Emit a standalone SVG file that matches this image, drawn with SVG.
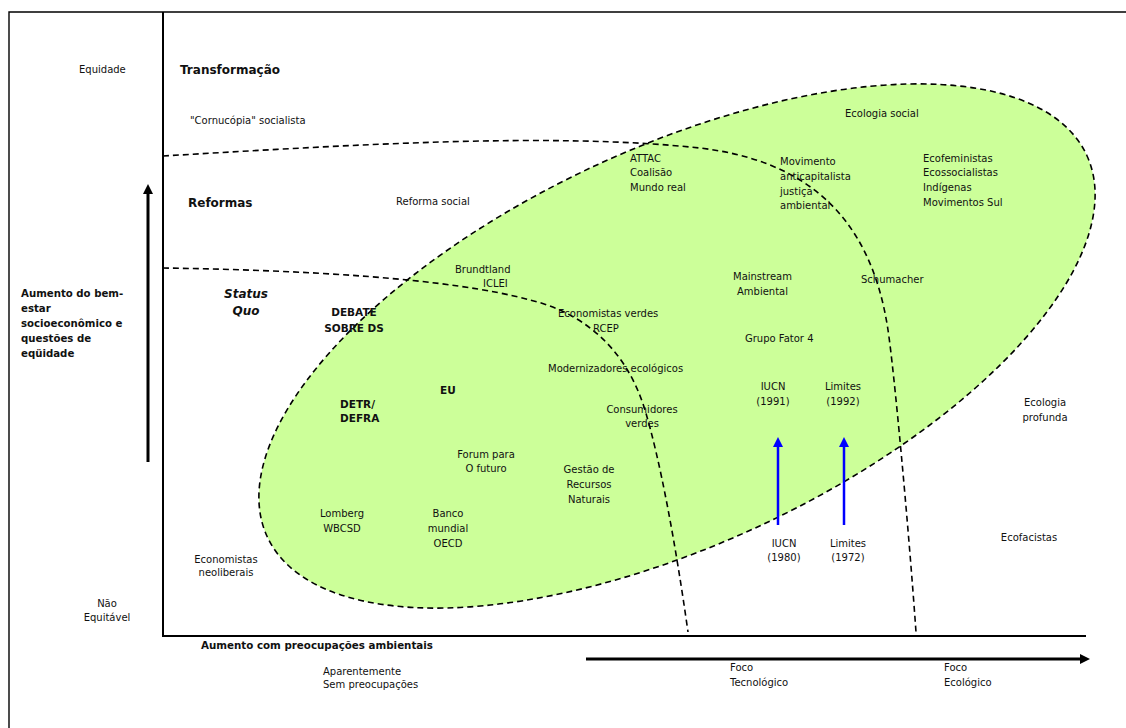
<svg xmlns="http://www.w3.org/2000/svg" width="1126" height="728" viewBox="0 0 1126 728">
<style>
text{font-family:"DejaVu Sans","Liberation Sans",sans-serif;font-size:10px;fill:#111}
.b{font-weight:bold}
.big{font-size:12px}
.m{font-size:10.5px}
.c{text-anchor:middle}
.dash{fill:none;stroke:#000;stroke-width:1.6;stroke-dasharray:6 4}
.ax{fill:none;stroke:#000;stroke-width:2}
</style>
<defs>
<marker id="ah" viewBox="0 0 10 10" refX="0" refY="5" markerWidth="10" markerHeight="10" markerUnits="userSpaceOnUse" orient="auto"><path d="M0,0 L10,5 L0,10 z" fill="#000"/></marker>
<marker id="ahb" viewBox="0 0 10 10" refX="0" refY="5" markerWidth="10" markerHeight="10" markerUnits="userSpaceOnUse" orient="auto"><path d="M0,0 L10,5 L0,10 z" fill="#0000ff"/></marker>
</defs>
<rect width="1126" height="728" fill="#fff"/>
<g id="frame">
<path d="M9,728 V12 H1126" fill="none" stroke="#000" stroke-width="1.4"/>
</g>
<g id="region-ellipse">
<ellipse cx="677" cy="346" rx="452" ry="198" transform="rotate(-25 677 346)" class="dash" style="fill:#ccff99"/>
</g>
<g id="boundaries">
<path class="dash" d="M163,156 C350,145 550,132 700,148 C800,160 870,210 888,330 C894,370 908,520 916,632"/>
<path class="dash" d="M163,268 C300,270 450,278 530,300 C580,312 625,345 645,410 C660,460 675,540 688,632"/>
</g>
<g id="axes">
<path class="ax" d="M163,12 V636 H1086"/>
</g>
<g id="connectors">
<line x1="148" y1="462" x2="148" y2="194" stroke="#000" stroke-width="3" marker-end="url(#ah)"/>
<line x1="586" y1="659" x2="1080" y2="659" stroke="#000" stroke-width="3" marker-end="url(#ah)"/>
<line x1="778" y1="525" x2="778" y2="447" stroke="#0000ff" stroke-width="2.5" marker-end="url(#ahb)"/>
<line x1="844" y1="525" x2="844" y2="447" stroke="#0000ff" stroke-width="2.5" marker-end="url(#ahb)"/>
</g>
<g id="axis-labels">
<text x="79" y="73">Equidade</text>
<text class="b" x="21" y="297" style="font-size:10.2px">Aumento do bem-</text>
<text class="b" x="21" y="312" style="font-size:10.2px">estar</text>
<text class="b" x="21" y="327" style="font-size:10.2px">socioeconômico e</text>
<text class="b" x="21" y="342" style="font-size:10.2px">questões de</text>
<text class="b" x="21" y="357" style="font-size:10.2px">eqüidade</text>
<text class="c" x="107" y="607">Não</text>
<text class="c" x="107" y="621">Equitável</text>
<text class="b" x="201" y="649" style="font-size:10.3px">Aumento com preocupações ambientais</text>
<text x="323" y="675">Aparentemente</text>
<text x="323" y="688">Sem preocupações</text>
<text x="730" y="671">Foco</text>
<text x="730" y="686">Tecnológico</text>
<text x="944" y="671">Foco</text>
<text x="944" y="686">Ecológico</text>
</g>
<g id="n-transformacao"><text class="b big" x="180" y="74">Transformação</text></g>
<g id="n-cornucopia"><text x="190" y="124">"Cornucópia" socialista</text></g>
<g id="n-reformas"><text class="b big" x="188" y="207">Reformas</text></g>
<g id="n-reforma-social"><text x="396" y="205">Reforma social</text></g>
<g id="n-status-quo"><text class="b big c" x="246" y="298" font-style="italic">Status</text><text class="b big c" x="246" y="315" font-style="italic">Quo</text></g>
<g id="n-debate"><text class="b m c" x="354" y="316">DEBATE</text><text class="b m c" x="354" y="332">SOBRE DS</text></g>
<g id="n-detr"><text class="b m" x="340" y="408">DETR/</text><text class="b m" x="340" y="422">DEFRA</text></g>
<g id="n-eu"><text class="b m" x="440" y="394">EU</text></g>
<g id="n-brundtland"><text x="455" y="273">Brundtland</text><text x="483" y="287">ICLEI</text></g>
<g id="n-attac"><text x="630" y="162">ATTAC</text><text x="630" y="176">Coalisão</text><text x="630" y="191">Mundo real</text></g>
<g id="n-economistas-verdes"><text x="558" y="317">Economistas verdes</text><text x="593" y="332">RCEP</text></g>
<g id="n-modernizadores"><text x="548" y="372">Modernizadores ecológicos</text></g>
<g id="n-consumidores"><text class="c" x="642" y="413">Consumidores</text><text class="c" x="642" y="427">verdes</text></g>
<g id="n-forum"><text class="c" x="486" y="458">Forum para</text><text class="c" x="486" y="472">O futuro</text></g>
<g id="n-gestao"><text class="c" x="589" y="473">Gestão de</text><text class="c" x="589" y="488">Recursos</text><text class="c" x="589" y="503">Naturais</text></g>
<g id="n-lomberg"><text class="c" x="342" y="517">Lomberg</text><text class="c" x="342" y="532">WBCSD</text></g>
<g id="n-banco"><text class="c" x="448" y="517">Banco</text><text class="c" x="448" y="532">mundial</text><text class="c" x="448" y="547">OECD</text></g>
<g id="n-neoliberais"><text class="c" x="226" y="563">Economistas</text><text class="c" x="226" y="576">neoliberais</text></g>
<g id="n-mainstream"><text x="733" y="280">Mainstream</text><text x="737" y="295">Ambiental</text></g>
<g id="n-fator4"><text x="745" y="342">Grupo Fator 4</text></g>
<g id="n-iucn1991"><text class="c" x="773" y="390">IUCN</text><text class="c" x="773" y="405">(1991)</text></g>
<g id="n-limites1992"><text class="c" x="843" y="390">Limites</text><text class="c" x="843" y="405">(1992)</text></g>
<g id="n-ecologia-social"><text x="845" y="117">Ecologia social</text></g>
<g id="n-movimento"><text x="780" y="165">Movimento</text><text x="780" y="180">anticapitalista</text><text x="780" y="195">justiça</text><text x="780" y="209">ambiental</text></g>
<g id="n-ecofeministas"><text x="923" y="162">Ecofeministas</text><text x="923" y="176">Ecossocialistas</text><text x="923" y="191">Indígenas</text><text x="923" y="206">Movimentos Sul</text></g>
<g id="n-schumacher"><text x="861" y="283">Schumacher</text></g>
<g id="n-ecologia-profunda"><text class="c" x="1045" y="406">Ecologia</text><text class="c" x="1045" y="421">profunda</text></g>
<g id="n-ecofacistas"><text class="c" x="1029" y="541">Ecofacistas</text></g>
<g id="n-iucn1980"><text class="c" x="784" y="547">IUCN</text><text class="c" x="784" y="561">(1980)</text></g>
<g id="n-limites1972"><text class="c" x="848" y="547">Limites</text><text class="c" x="848" y="561">(1972)</text></g>
</svg>
